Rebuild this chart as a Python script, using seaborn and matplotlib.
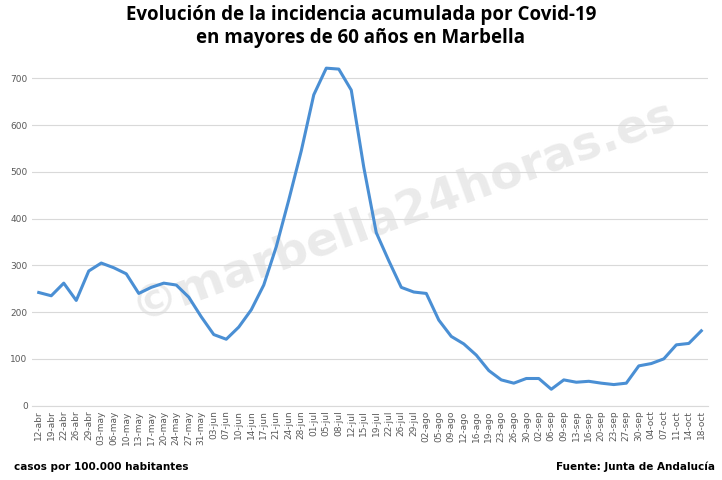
import matplotlib
matplotlib.use("Agg")
import matplotlib.pyplot as plt
import seaborn as sns
import pandas as pd

dates = ["12-abr","19-abr","22-abr","26-abr","29-abr","03-may","06-may","10-may","13-may","17-may",
         "20-may","24-may","27-may","31-may","03-jun","07-jun","10-jun","14-jun","17-jun","21-jun",
         "24-jun","28-jun","01-jul","05-jul","08-jul","12-jul","15-jul","19-jul","22-jul","26-jul",
         "29-jul","02-ago","05-ago","09-ago","12-ago","16-ago","19-ago","23-ago","26-ago","30-ago",
         "02-sep","06-sep","09-sep","13-sep","16-sep","20-sep","23-sep","27-sep","30-sep","04-oct",
         "07-oct","11-oct","14-oct","18-oct"]
values = [242,235,262,225,288,305,295,282,240,253,
          262,258,232,190,152,142,168,205,258,340,
          440,545,665,722,720,675,510,370,310,253,
          243,240,183,148,132,108,75,55,48,58,
          58,35,55,50,52,48,45,48,85,90,
          100,130,133,160]
yticks = [0,100,200,300,400,500,600,700]

df = pd.DataFrame({"x": range(len(dates)), "v": values})
fig = plt.figure(figsize=(7.22,4.8), dpi=100)
ax = fig.add_axes([0.045, 0.155, 0.935, 0.74])
sns.lineplot(data=df, x="x", y="v", ax=ax, color="#4a8fd4", linewidth=2.2)
ax.set_xlim(-0.5, len(dates)-0.5)
ax.set_ylim(0, 760)
ax.set_yticks(yticks)
ax.set_yticklabels([str(t) for t in yticks], fontsize=6.5, color="#595959")
ax.set_xticks(range(len(dates)))
ax.set_xticklabels(dates, rotation=90, fontsize=6.5, color="#595959")
ax.grid(axis="y", color="#d9d9d9", linewidth=0.8)
ax.set_axisbelow(True)
for s in ["top","right","left"]:
    ax.spines[s].set_visible(False)
ax.spines["bottom"].set_color("#d9d9d9")
ax.tick_params(length=0)
ax.set_xlabel(""); ax.set_ylabel("")
ax.text(0.55, 0.55, "©marbella24horas.es", transform=ax.transAxes, rotation=20,
        fontsize=34, fontweight="bold", color="#e2e2e2", alpha=0.7, ha="center", va="center", zorder=0)
fig.text(0.5, 0.99, "Evolución de la incidencia acumulada por Covid-19\nen mayores de 60 años en Marbella",
         ha="center", va="top", fontsize=13.5, fontweight="bold", fontfamily="Open Sans", linespacing=1.2)
fig.text(0.02, 0.02, "casos por 100.000 habitantes", fontsize=7.5, fontweight="bold")
fig.text(0.99, 0.02, "Fuente: Junta de Andalucía", fontsize=7.5, fontweight="bold", ha="right")
fig.savefig("out.png", dpi=100)
